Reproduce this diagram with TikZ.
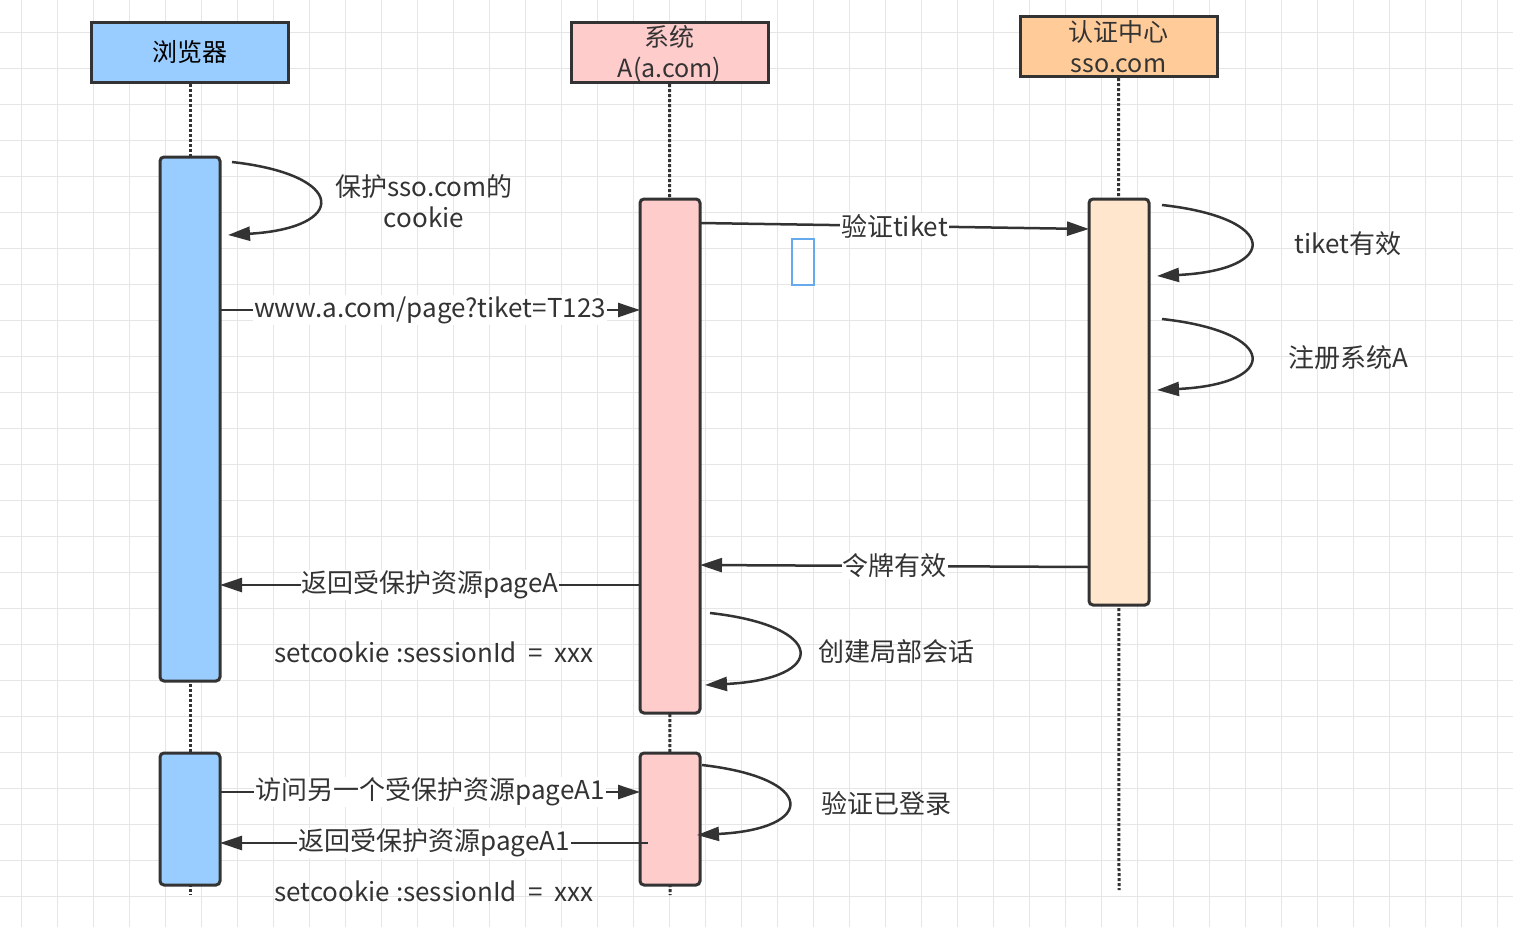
\documentclass[tikz,border=0pt]{standalone}
\usepackage{fontspec}
\setmainfont{Noto Sans CJK SC}
\usetikzlibrary{arrows.meta}
\definecolor{ln}{HTML}{333333}
\definecolor{bl}{HTML}{99CCFF}
\definecolor{pk}{HTML}{FFCCCC}
\definecolor{or}{HTML}{FFCC99}
\definecolor{lo}{HTML}{FFE6CC}
\definecolor{gr}{HTML}{E6E6E6}
\begin{document}
\begin{tikzpicture}[x=1pt,y=-1pt,
  hdr/.style={draw=ln,line width=3pt,minimum width=197pt,minimum height=60pt,align=center,font=\fontsize{25}{31}\selectfont,inner sep=0pt},
  bar/.style={draw=ln,line width=3pt,rounded corners=4pt,minimum width=60pt,inner sep=0pt},
  life/.style={ln,line width=3pt,dotted},
  arr/.style={ln,line width=2.5pt,-{Triangle[length=22pt,width=14pt]}},
  lbl/.style={fill=white,inner sep=1pt,font=\fontsize{26}{30}\selectfont,text=ln},
  txt/.style={font=\fontsize{26}{31}\selectfont,text=ln,align=center}]
\useasboundingbox (0,0) rectangle (1513,927);
\fill[white] (0,0) rectangle (1513,927);
\foreach \x in {21,57,...,1513} \draw[gr,line width=1pt] (\x,0) -- (\x,927);
\foreach \y in {32,68,...,927} \draw[gr,line width=1pt] (0,\y) -- (1513,\y);
% headers
\node[hdr,fill=bl] (hb) at (190,52.5) {浏览器};
\node[hdr,fill=pk] (ha) at (669.5,52.5) {};
\node[text=ln,font=\fontsize{25}{31}\selectfont,align=center] (hat) at (669.5,54) {系统\\A(a.com)};
\node[hdr,fill=or] (hs) at (1118.5,46.5) {};
\node[text=ln,font=\fontsize{25}{31}\selectfont,align=center] (hst) at (1118.5,47) {认证中心\\sso.com};
% lifelines
\coordinate (eb) at (190,895); \coordinate (ea) at (670,895); \coordinate (es) at (1119,890);
\draw[life] (hb.south) -- (eb);
\draw[life] (ha.south) -- (ea);
\draw[life] (hs.south) -- (es);
% bars
\node[bar,fill=bl,minimum height=524pt] (b1) at (190,419) {};
\node[bar,fill=bl,minimum height=132pt] (b2) at (190,819) {};
\node[bar,fill=pk,minimum height=514pt] (a1) at (670,456) {};
\node[bar,fill=pk,minimum height=132pt] (a2) at (670,819) {};
\node[bar,fill=lo,minimum height=406pt] (s1) at (1119,402) {};
% self loops
\coordinate (l1a) at (232,162); \coordinate (l1b) at (228,235);
\draw[arr] (l1a) .. controls (348,175) and (348,228) .. (l1b);
\node[txt] (t1) at (424,201) {保护sso.com的\\cookie};
\coordinate (l2a) at (1162,205); \coordinate (l2b) at (1157,276);
\draw[arr] (l2a) .. controls (1280,218) and (1280,270) .. (l2b);
\node[txt] (t2) at (1348,244) {tiket有效};
\coordinate (l3a) at (1162,319); \coordinate (l3b) at (1157,390);
\draw[arr] (l3a) .. controls (1280,332) and (1280,384) .. (l3b);
\node[txt] (t3) at (1348,358) {注册系统A};
\coordinate (l4a) at (710,613); \coordinate (l4b) at (705,685);
\draw[arr] (l4a) .. controls (828,626) and (828,679) .. (l4b);
\node[txt] (t4) at (896,652) {创建局部会话};
\coordinate (l5a) at (702,765); \coordinate (l5b) at (697,835);
\draw[arr] (l5a) .. controls (817,778) and (817,829) .. (l5b);
\node[txt] (t5) at (886,804) {验证已登录};
% messages
\coordinate (m1a) at (220,310); \coordinate (m1b) at (640,310);
\draw[arr] (m1a) -- node[lbl]{www.a.com/page?tiket=T123} (m1b);
\coordinate (m2a) at (700,223); \coordinate (m2b) at (1089,229);
\draw[arr] (m2a) -- node[lbl,pos=0.5]{验证tiket} (m2b);
\coordinate (m3a) at (1089,567); \coordinate (m3b) at (700,565);
\draw[arr] (m3a) -- node[lbl]{令牌有效} (m3b);
\coordinate (m4a) at (640,585); \coordinate (m4b) at (220,585);
\draw[arr] (m4a) -- node[lbl]{返回受保护资源pageA} (m4b);
\coordinate (m5a) at (220,792); \coordinate (m5b) at (640,792);
\draw[arr] (m5a) -- node[lbl]{访问另一个受保护资源pageA1} (m5b);
\coordinate (m6a) at (648,843); \coordinate (m6b) at (220,843);
\draw[arr] (m6a) -- node[lbl]{返回受保护资源pageA1} (m6b);
\node[txt] (c1) at (434,652) {setcookie :sessionId\ \ =\ \ xxx};
\node[txt] (c2) at (434,891) {setcookie :sessionId\ \ =\ \ xxx};
\node[draw={rgb,255:red,102;green,170;blue,238},line width=2pt,minimum width=22pt,minimum height=46pt,inner sep=0pt] (sel) at (803,262) {};
\end{tikzpicture}
\end{document}
